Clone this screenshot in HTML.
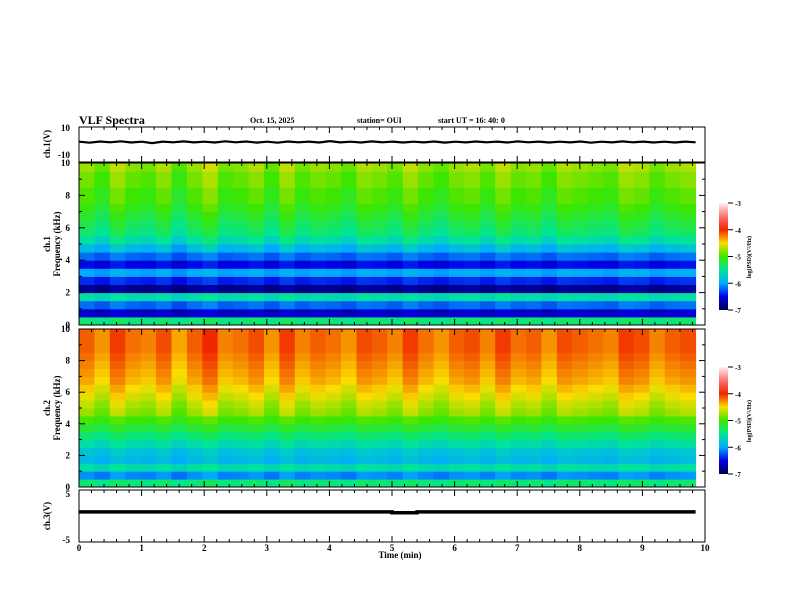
<!DOCTYPE html>
<html><head><meta charset="utf-8"><style>
body{margin:0;background:#fff;}
svg{display:block;font-family:"Liberation Serif",serif;font-weight:bold;}
</style></head><body>
<svg id="s" width="792" height="612" viewBox="0 0 792 612">
<text x="79" y="124" font-size="12">VLF Spectra</text>
<text x="250" y="123" font-size="8">Oct. 15, 2025</text>
<text x="357" y="123" font-size="8">station= OUI</text>
<text x="438" y="123" font-size="8">start  UT =   16: 40: 0</text>
<g id="g"></g>
</svg>
<script>
const timeTicks=[0,1,2,3,4,5,6,7,8,9,10];
const freqTicks=[0,2,4,6,8,10];
const ch1Profile=[-5.4,-6.6,-6.2,-5.6,-6.8,-6.4,-6.0,-6.5,-6.2,-5.9,-5.6,-5.4,-5.3,-5.2,-5.1,-5.0,-5.0,-4.9,-4.9,-4.8];
const ch2Profile=[-5.4,-6.1,-5.6,-5.9,-5.8,-5.6,-5.4,-5.2,-5.0,-4.8,-4.7,-4.6,-4.5,-4.4,-4.35,-4.3,-4.25,-4.2,-4.2,-4.2];
const timeMod=[0.1,-0.2,0.3,0,-0.1,0.2,-0.3,0.1,0.4,-0.1,0,0.2,-0.2,0.3,-0.1,0.1,0,-0.2,0.2,0.1,-0.1,0.3,0,-0.2,0.1,0.2,-0.1,0.3,0,0.1,-0.2,0.2,0.1,0,-0.1,0.3,0.2,-0.1,0.1,0.2];
const ch1Wave=[1,-2,1.5,-1,2,-1.5,1,-3,1.2,-1,1.8,-1.2,1,-1.5,2,-1,1.3,-1.6,1,-2,1.4,-1,1.1,-1.3,2.5,-1.2,1,-1.4,1.6,-1,1.2,-1.5,1,-1.1,1.3,-1.8,1,-1.2,1.5,-1,1.2,-1.3,1.8,-1,1.1,-1.4,1,-1.2,1.4,-2,1,-1.1,1.6,-1,1.2,-1.5,1,-1.3,1.1,-1];
const ch3Levels=[1.2,1.0,1.2];
const ch3Times=[0,5,5.4,9.85];
const NS="http://www.w3.org/2000/svg",G=document.getElementById('g');
const X0=79,X1=705,tMax=9.85;
const xs=t=>X0+(X1-X0)*t/10;
function el(tag,at,p){const e=document.createElementNS(NS,tag);for(const k in at)e.setAttribute(k,at[k]);(p||G).appendChild(e);return e;}
function jet(v){const s=[[-7,[0,0,80]],[-6.5,[0,0,230]],[-6,[0,170,255]],[-5.5,[0,230,150]],[-5,[60,230,0]],[-4.5,[250,220,0]],[-4,[240,40,0]],[-3.6,[255,90,90]],[-3,[255,240,240]]];
 v=Math.max(-7,Math.min(-3,v));for(let i=0;i<s.length-1;i++){if(v<=s[i+1][0]){const f=(v-s[i][0])/(s[i+1][0]-s[i][0]);const c=s[i][1].map((a,j)=>Math.round(a+(s[i+1][1][j]-a)*f));return `rgb(${c})`;}}return 'rgb(255,240,240)';}
function frame(y0,y1,name){
 const r=el('rect',{x:X0,y:y0,width:X1-X0,height:y1-y0,fill:'none',stroke:'#000','stroke-width':1});
 
 for(let i=0;i<=50;i++){const x=X0+(X1-X0)*i/50,L=i%5==0?6:3;
  el('line',{x1:x,x2:x,y1:y0,y2:y0+L,stroke:'#000'});el('line',{x1:x,x2:x,y1:y1,y2:y1-L,stroke:'#000'});}
}
function ylab(txt,y,name){const t=el('text',{x:70,y:y+3,'font-size':9,'text-anchor':'end'});t.textContent=txt;}
function ytitle(lines,yc,name){const t=el('text',{transform:`translate(50,${yc}) rotate(-90)`,'font-size':9,'text-anchor':'middle'});lines.forEach((l,i)=>{const s=el('tspan',{x:0,dy:i?10:0},t);s.textContent=l;});}
function spec(y0,y1,prof,name,cb0){
 const h=(y1-y0)/prof.length,n=timeMod.length;
 prof.forEach((p,fi)=>timeMod.forEach((m,ti)=>{
  const c=el('rect',{x:xs(tMax*ti/n),y:y1-(fi+1)*h,width:(xs(tMax)-X0)/n+0.5,height:h+0.5,fill:jet(p+m*(fi>8?0.5:0.25))});
  }));
 frame(y0,y1,name);
 freqTicks.forEach(f=>ylab(String(f),y1-(y1-y0)*f/10,name+'-tick-'+f));
 for(let f=0;f<=10;f++){const y=y1-(y1-y0)*f/10;el('line',{x1:X0,x2:X0+(f%2?3:6),y1:y,y2:y,stroke:'#000'});el('line',{x1:X1,x2:X1-(f%2?3:6),y1:y,y2:y,stroke:'#000'});}
 const gid=name+'g',lg=el('linearGradient',{id:gid,x1:0,y1:1,x2:0,y2:0});
 for(let k=0;k<=16;k++)el('stop',{offset:k/16,'stop-color':jet(-7+4*k/16)},lg);
 const cb=el('rect',{x:719,y:cb0,width:9,height:107,fill:`url(#${gid})`});
 ['-3','-4','-5','-6','-7'].forEach((l,i)=>{const y=cb0+107*i/4;el('line',{x1:728,x2:733,y1:y,y2:y,stroke:'#000'});const t=el('text',{x:735,y:y+3,'font-size':7});t.textContent=l;});
 const lt=el('text',{transform:`translate(751,${cb0+54}) rotate(-90)`,'font-size':6,'text-anchor':'middle'});lt.textContent='log(PSD)(V²/Hz)';
}
spec(163,325,ch1Profile,'ch1-spectrogram',203);ytitle(['ch.1','Frequency  (kHz)'],244,'ch1-freq-title');
spec(329,487,ch2Profile,'ch2-spectrogram',367);ytitle(['ch.2','Frequency  (kHz)'],408,'ch2-freq-title');
frame(127,162,'ch1-waveform');
ylab('10',128,'ch1-ymax');ylab('-10',155,'ch1-ymin');ytitle(['ch.1(V)'],144,'ch1-y-title');
const yW=v=>142-v*0.35;let d='';ch1Wave.forEach((v,i)=>{d+=(i?'L':'M')+xs(tMax*i/(ch1Wave.length-1)).toFixed(1)+','+yW(v).toFixed(1);});
const w=el('path',{d,fill:'none',stroke:'#000','stroke-width':2.2});
frame(490,542,'ch3-waveform');
ylab('5',494,'ch3-ymax');ylab('-5',540,'ch3-ymin');ytitle(['ch.3(V)'],516,'ch3-y-title');
const yC=v=>517.5-v*4.7;let d3='';ch3Levels.forEach((v,i)=>{d3+=(i?'L':'M')+xs(ch3Times[i])+','+yC(v)+'L'+xs(ch3Times[i+1])+','+yC(v);});
const l3=el('path',{d:d3,fill:'none',stroke:'#000','stroke-width':3.5});
timeTicks.forEach(t=>{const e=el('text',{x:xs(t),y:551,'font-size':9,'text-anchor':'middle'});e.textContent=t;});
const xt=el('text',{x:400,y:558,'font-size':9,'text-anchor':'middle'});xt.textContent='Time  (min)';
</script>
</body></html>
